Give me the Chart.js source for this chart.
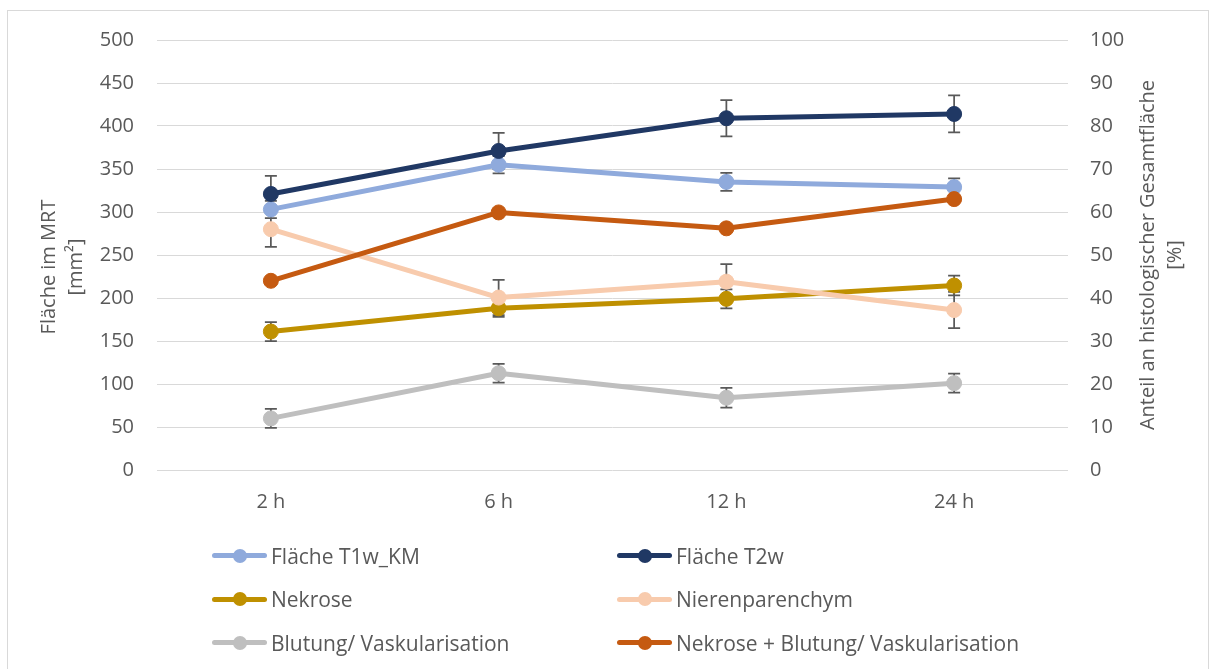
<!DOCTYPE html>
<html>
<head>
<meta charset="utf-8">
<script src="https://cdn.jsdelivr.net/npm/chart.js@4/dist/chart.umd.min.js"></script>
<style>
  html, body { margin: 0; padding: 0; background: #fff; }
  #wrap { position: relative; width: 1213px; height: 669px; overflow: hidden; }
  #frame { position: absolute; left: 7px; top: 10px; width: 1200px; height: 700px; border: 1px solid #D9D9D9; }
  canvas { position: absolute; left: 0; top: 0; }
  #legend { position: absolute; left: 212px; top: 535px; width: 900px; font-family: 'Open Sans', sans-serif; font-size: 21px; color: #595959; display: grid; grid-template-columns: 405px 480px; grid-auto-rows: 43.5px; }
  .item { display: flex; align-items: center; height: 41px; }
  .mark { position: relative; width: 55px; height: 14px; margin-right: 4px; }
  .mark .ln { position: absolute; left: 0; right: 0; top: 4.5px; height: 5px; border-radius: 3px; }
  .mark .dot { position: absolute; left: 20.5px; top: 0; width: 14px; height: 14px; border-radius: 50%; }
</style>
</head>
<body>
<div id="wrap">
  <div id="frame"></div>
  <canvas id="chart" width="1213" height="669"></canvas>
  <div id="legend"></div>
</div>
<script>
// Zeitpunkte
const categories = ['2 h', '6 h', '12 h', '24 h'];

// linke Achse (mm²)
const flaecheT1wKM = [303, 355, 335, 329];
const flaecheT2w = [321, 371, 409, 414];
const errT1wKM = [10, 10, 10.5, 10];
const errT2w = [21, 21, 21, 21.5];

// rechte Achse (%)
const nekrose = [32.2, 37.6, 39.8, 42.9];
const nierenparenchym = [56.0, 40.1, 43.8, 37.2];
const blutung = [12.0, 22.5, 16.8, 20.2];
const nekroseBlutung = [44.0, 59.9, 56.2, 63.0];
const errNekrose = [2.2, 2.0, 2.2, 2.3];
const errNieren = [4.1, 4.1, 4.1, 4.2];
const errBlutung = [2.2, 2.2, 2.3, 2.2];

const leftTicks = { min: 0, max: 500, step: 50 };
const rightTicks = { min: 0, max: 100, step: 10 };

const FONT = "'Open Sans', sans-serif";
const GREY = '#595959';

const series = [
  { label: 'Fläche T1w_KM', data: flaecheT1wKM, err: errT1wKM, color: '#8FAADC', axis: 'yL' },
  { label: 'Fläche T2w', data: flaecheT2w, err: errT2w, color: '#203864', axis: 'yL' },
  { label: 'Nekrose', data: nekrose, err: errNekrose, color: '#BF9000', axis: 'yR' },
  { label: 'Nierenparenchym', data: nierenparenchym, err: errNieren, color: '#F8CBAD', axis: 'yR' },
  { label: 'Blutung/ Vaskularisation', data: blutung, err: errBlutung, color: '#BFBFBF', axis: 'yR' },
  { label: 'Nekrose + Blutung/ Vaskularisation', data: nekroseBlutung, err: null, color: '#C55A11', axis: 'yR' }
];

// Fehlerbalken unter die Linien zeichnen
const errorBars = {
  id: 'errorBars',
  beforeDatasetsDraw(chart) {
    const ctx = chart.ctx;
    ctx.save();
    ctx.strokeStyle = GREY;
    ctx.lineWidth = 1.75;
    chart.data.datasets.forEach((ds, i) => {
      if (!ds.errorBars) return;
      const meta = chart.getDatasetMeta(i);
      const scale = chart.scales[ds.yAxisID];
      meta.data.forEach((pt, j) => {
        const e = ds.errorBars[j];
        const yT = scale.getPixelForValue(ds.data[j] + e);
        const yB = scale.getPixelForValue(ds.data[j] - e);
        ctx.beginPath();
        ctx.moveTo(pt.x, yT); ctx.lineTo(pt.x, yB);
        ctx.moveTo(pt.x - 6, yT); ctx.lineTo(pt.x + 6, yT);
        ctx.moveTo(pt.x - 6, yB); ctx.lineTo(pt.x + 6, yB);
        ctx.stroke();
      });
    });
    ctx.restore();
  }
};

// Achsentitel (beide von unten nach oben gelesen)
const axisTitles = {
  id: 'axisTitles',
  afterDraw(chart) {
    const ctx = chart.ctx;
    const a = chart.chartArea;
    ctx.save();
    ctx.fillStyle = GREY;
    ctx.font = '20px ' + FONT;
    ctx.textAlign = 'center';
    ctx.textBaseline = 'middle';
    const draw = (lines, x, y) => {
      ctx.save();
      ctx.translate(x, y);
      ctx.rotate(-Math.PI / 2);
      lines.forEach((t, k) => ctx.fillText(t, 0, k * 27));
      ctx.restore();
    };
    draw(['Fläche im MRT', '[mm²]'], chart.scales.yL.left + 49, (a.top + a.bottom) / 2 + 12);
    draw(['Anteil an histologischer Gesamtfläche', '[%]'], chart.scales.yR.left + 80, (a.top + a.bottom) / 2);
    ctx.restore();
  }
};

new Chart(document.getElementById('chart'), {
  type: 'line',
  data: {
    labels: categories,
    datasets: series.map((s, i) => ({
      label: s.label,
      data: s.data,
      errorBars: s.err,
      yAxisID: s.axis,
      order: -i,
      borderColor: s.color,
      backgroundColor: s.color,
      borderWidth: 5,
      borderCapStyle: 'round',
      borderJoinStyle: 'round',
      pointRadius: 7.5,
      pointBorderWidth: 1,
      pointBorderColor: s.color,
      pointBackgroundColor: s.color,
      tension: 0
    }))
  },
  options: {
    responsive: false,
    animation: false,
    layout: { padding: { left: 0, right: 0, top: 40, bottom: 159 } },
    plugins: { legend: { display: false }, tooltip: { enabled: false } },
    scales: {
      x: {
        offset: true,
        grid: { display: false, drawTicks: false },
        border: { display: false },
        ticks: { color: GREY, font: { family: FONT, size: 20 }, padding: 20 },
        afterFit(s) { s.height = 40; }
      },
      yL: {
        position: 'left',
        min: leftTicks.min, max: leftTicks.max,
        ticks: { stepSize: leftTicks.step, color: GREY, font: { family: FONT, size: 20 }, padding: 23 },
        grid: { color: '#D9D9D9', lineWidth: 1, drawTicks: false },
        border: { display: false },
        afterFit(s) { s.width = 157; }
      },
      yR: {
        position: 'right',
        min: rightTicks.min, max: rightTicks.max,
        ticks: { stepSize: rightTicks.step, color: GREY, font: { family: FONT, size: 20 }, padding: 22 },
        grid: { display: false, drawTicks: false },
        border: { display: false },
        afterFit(s) { s.width = 145; }
      }
    }
  },
  plugins: [errorBars, axisTitles]
});

// Legende in zwei Spalten
const leg = document.getElementById('legend');
series.forEach(s => {
  const it = document.createElement('div');
  it.className = 'item';
  it.innerHTML = '<span class="mark"><span class="ln" style="background:' + s.color + '"></span>' +
    '<span class="dot" style="background:' + s.color + '"></span></span><span>' + s.label + '</span>';
  leg.appendChild(it);
});
</script>
</body>
</html>
